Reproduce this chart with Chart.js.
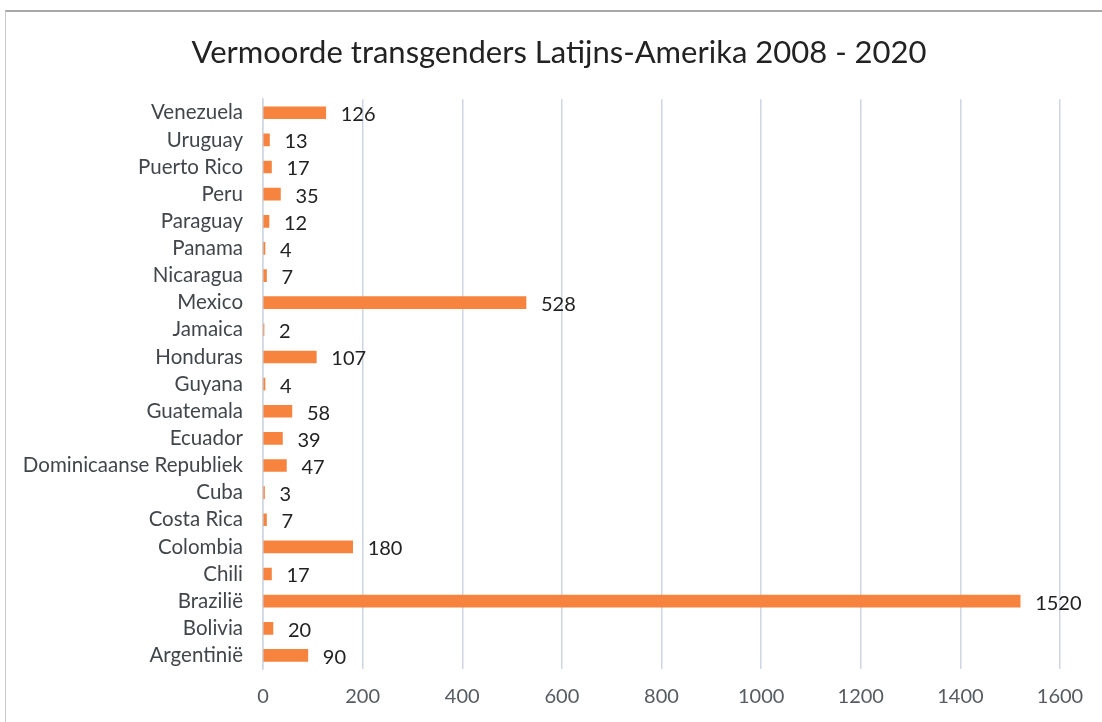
<!DOCTYPE html>
<html>
<head>
<meta charset="utf-8">
<script src="https://cdn.jsdelivr.net/npm/chart.js@4"></script>
<style>
    body { margin: 0; background: #fff; }
    #wrap { position: relative; width: 1102px; height: 722px; }
    #frame { position: absolute; left: 5px; top: 10px; right: 0; bottom: 0;
             border-top: 2px solid #a8a8a8; border-left: 1px solid #c8c8c8; pointer-events: none; }
</style>
</head>
<body>
<div id="wrap">
    <canvas id="murderChart" width="1102" height="722"></canvas>
    <div id="frame"></div>
</div>
<script>
const countries = [
    "Venezuela", "Uruguay", "Puerto Rico", "Peru", "Paraguay", "Panama", "Nicaragua",
    "Mexico", "Jamaica", "Honduras", "Guyana", "Guatemala", "Ecuador",
    "Dominicaanse Republiek", "Cuba", "Costa Rica", "Colombia", "Chili", "Brazilië",
    "Bolivia", "Argentinië"
];
const murders = [126, 13, 17, 35, 12, 4, 7, 528, 2, 107, 4, 58, 39, 47, 3, 7, 180, 17, 1520, 20, 90];
const xTicks = [0, 200, 400, 600, 800, 1000, 1200, 1400, 1600];

const FONT = "Lato, 'Open Sans', sans-serif";

// value labels at the end of each bar
const barLabels = {
    id: "barLabels",
    afterDatasetsDraw(chart) {
        const c = chart.ctx;
        const meta = chart.getDatasetMeta(0);
        c.save();
        c.font = "20px " + FONT;
        c.fillStyle = "#222";
        c.textAlign = "left";
        c.textBaseline = "middle";
        meta.data.forEach((bar, i) => {
            c.fillText(String(murders[i]), bar.x + 15, bar.y + 2);
        });
        c.restore();
    }
};

// left padding is only there to move the title centre; let the long
// country labels use that space instead of being clipped
const unclipLabels = {
    id: "unclipLabels",
    afterLayout(chart) { chart.scales.y.left = 0; }
};

const ctx = document.getElementById("murderChart").getContext("2d");
const murderChart = new Chart(ctx, {
    type: "bar",
    data: {
        labels: countries,
        datasets: [
            { data: murders, backgroundColor: "#f6833e", barThickness: 12 }
        ]
    },
    options: {
        indexAxis: "y",
        responsive: false,
        animation: false,
        layout: { padding: { left: 58, right: 42, top: 0, bottom: 0 } },
        plugins: {
            legend: { display: false },
            tooltip: { enabled: false },
            title: {
                display: true,
                text: "Vermoorde transgenders Latijns-Amerika 2008 - 2020",
                color: "#222",
                font: { family: FONT, size: 31, weight: "normal" },
                padding: { top: 34, bottom: 28 }
            }
        },
        scales: {
            x: {
                min: 0,
                max: 1600,
                afterBuildTicks(scale) { scale.ticks = xTicks.map(v => ({ value: v })); },
                afterFit(scale) { scale.height = 53; },
                grid: { color: "#cdd6e2", lineWidth: 1.5, drawTicks: false },
                border: { display: false },
                ticks: {
                    color: "#555b60",
                    padding: 16,
                    callback: (v) => String(v),
                    font: { family: FONT, size: 20 }
                }
            },
            y: {
                afterFit(scale) { scale.width = 205; },
                grid: { display: false, drawTicks: false },
                border: { display: true, color: "#cdd6e2", width: 1.5 },
                ticks: {
                    color: "#41464b",
                    padding: 20,
                    autoSkip: false,
                    font: { family: FONT, size: 20.5 }
                }
            }
        }
    },
    plugins: [barLabels, unclipLabels]
});
</script>
</body>
</html>
